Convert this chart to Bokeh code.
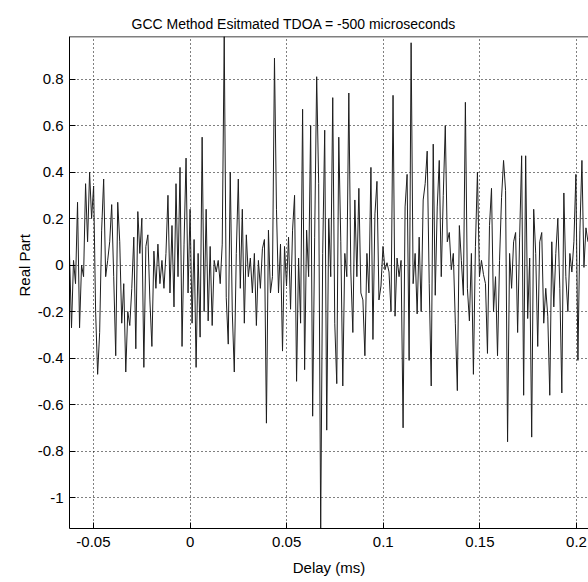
import numpy as np
from bokeh.plotting import figure
from bokeh.models import Range1d, FixedTicker, Span, Title
from bokeh.embed import file_html
from bokeh.resources import INLINE

# ---- data ----
delay_start = -0.0624   # ms, first sample
delay_step = 0.00104    # ms, sample spacing

real_part = [
    0.05, -0.27, 0.02, -0.08, 0.27, -0.27, 0.0, -0.05, 0.35, 0.10,
    0.40, 0.20, 0.34, -0.20, -0.47, -0.29, 0.15, 0.37, -0.05, 0.02,
    0.10, 0.26, -0.05, -0.39, 0.27, 0.10, -0.25, -0.08, -0.46, -0.20,
    -0.26, -0.10, 0.12, -0.36, 0.23, 0.05, 0.20, -0.44, 0.08, 0.13,
    -0.15, -0.35, 0.06, -0.10, 0.09, -0.08, 0.02, -0.10, 0.05, 0.30,
    -0.12, 0.17,
    -0.18, 0.35, -0.05, 0.42, -0.35, 0.09, 0.46, -0.12, 0.24, -0.25,
    0.11, -0.44, 0.05, -0.31, 0.55, -0.20, 0.24, -0.24, 0.08, -0.26,
    0.02, -0.03, 0.02, -0.08, 0.09, 0.983, -0.14, -0.34, 0.40, -0.20,
    -0.46, 0.05, 0.37, -0.10, 0.24, -0.25, 0.13, -0.05, 0.03, -0.12,
    0.05, -0.26, 0.02, -0.10, 0.07, 0.11, -0.68, 0.15, -0.12, -0.05,
    0.89,
    0.24, -0.12, 0.09, -0.37, 0.08, -0.09, 0.12, -0.19, 0.15, 0.30,
    -0.50, 0.03, -0.25, 0.67, -0.45, 0.15, -0.05, 0.60, -0.65, 0.12,
    0.81, 0.35, -1.133, 0.05, 0.58, -0.71, 0.20, -0.05, 0.72, -0.25,
    -0.51, 0.55, 0.10, -0.52, 0.05, -0.05, 0.74, -0.03, -0.29, 0.28,
    -0.05, 0.33, -0.12, -0.15, -0.39, 0.05, -0.12, 0.42, -0.32, 0.22,
    0.36, -0.15,
    -0.09, 0.08, -0.02, 0.01, -0.03, -0.20, 0.73, -0.22, 0.03, -0.05,
    0.02, -0.70, 0.25, 0.39, -0.41, 0.956, -0.08, 0.05, -0.21, 0.12,
    -0.20, 0.28, 0.35, 0.49, -0.08, -0.52, 0.52, -0.13, 0.25, 0.45,
    -0.05, 0.30, 0.60, 0.10, 0.14, -0.02, 0.05, -0.25, -0.54, 0.17,
    0.02, -0.13, 0.70, -0.10, -0.24, 0.05, -0.47, 0.08, 0.40, -0.05,
    0.02, -0.04,
    -0.08, -0.38, 0.17, 0.33, -0.20, -0.05, -0.39, 0.02, 0.29, 0.45,
    0.32, -0.76, 0.05, -0.10, 0.10, 0.14, -0.29, 0.12, 0.47, -0.56,
    0.47, -0.23, 0.03, -0.74, 0.24, 0.05, -0.35, 0.10, 0.14, -0.25,
    -0.10, -0.22, -0.56, 0.10, -0.18, 0.05, 0.20, -0.10, -0.55, 0.31,
    -0.05, -0.20, 0.05, -0.03, 0.10, 0.39, -0.41, 0.15, 0.45, -0.01,
    0.16, 0.10,
]

x_ticks = [-0.05, 0, 0.05, 0.1, 0.15, 0.2]
x_tick_labels = ["-0.05", "0", "0.05", "0.1", "0.15", "0.2"]
y_ticks = [-1, -0.8, -0.6, -0.4, -0.2, 0, 0.2, 0.4, 0.6, 0.8]
y_tick_labels = ["-1", "-0.8", "-0.6", "-0.4", "-0.2", "0", "0.2", "0.4", "0.6", "0.8"]

x_limits = (-0.0624, 0.2062)
y_limits = (-1.133, 0.983)

title_text = "GCC Method Esitmated TDOA = -500 microseconds"
x_label = "Delay (ms)"
y_label = "Real Part"

delay = delay_start + delay_step * np.arange(len(real_part))

FONT = "Liberation Sans"

p = figure(width=588, height=582, output_backend="svg", toolbar_location=None,
           x_range=Range1d(*x_limits), y_range=Range1d(*y_limits),
           min_border_left=69, min_border_right=0, min_border_top=36, min_border_bottom=54,
           title=title_text)
p.background_fill_color = "white"
p.border_fill_color = "white"
p.outline_line_color = None

p.title.text_font = FONT
p.title.text_font_size = "14px"
p.title.text_font_style = "normal"
p.title.text_color = "black"
p.title.align = "left"
p.title.offset = 62

for g, ticks in ((p.xgrid[0], x_ticks), (p.ygrid[0], y_ticks)):
    g.ticker = FixedTicker(ticks=ticks)
    g.grid_line_color = "black"
    g.grid_line_dash = "1 3"
    g.grid_line_width = 1
    g.grid_line_alpha = 1.0

p.line(delay, real_part, line_color="#1e1e1e", line_width=1)

for ax, ticks, labels in ((p.xaxis[0], x_ticks, x_tick_labels), (p.yaxis[0], y_ticks, y_tick_labels)):
    ax.ticker = FixedTicker(ticks=ticks)
    ax.major_label_overrides = {t: l for t, l in zip(ticks, labels)}
    ax.major_tick_in = 6
    ax.major_tick_out = 0
    ax.minor_tick_in = 0
    ax.minor_tick_out = 0
    ax.axis_line_color = "black"
    ax.major_tick_line_color = "black"
    ax.major_label_text_font = FONT
    ax.major_label_text_font_size = "15px"
    ax.major_label_text_color = "black"
    ax.axis_label_text_font = FONT
    ax.axis_label_text_font_size = "15px"
    ax.axis_label_text_font_style = "normal"
    ax.axis_label_text_color = "black"

p.xaxis.axis_label = x_label
p.xaxis.major_label_standoff = 8
p.yaxis.major_label_standoff = 6
p.xaxis.axis_label_standoff = 9

# y label as a side title, so that it can sit level with the zero line as in the reference
p.add_layout(Title(text=y_label, align="left", offset=232, text_font=FONT,
                   text_font_size="15px", text_font_style="normal", text_color="black",
                   standoff=4), "left")

# top border of the axes box
p.add_layout(Span(location=y_limits[1], dimension="width", line_color="black", line_width=1.5))

open("out.html", "w").write(file_html(p, INLINE))
